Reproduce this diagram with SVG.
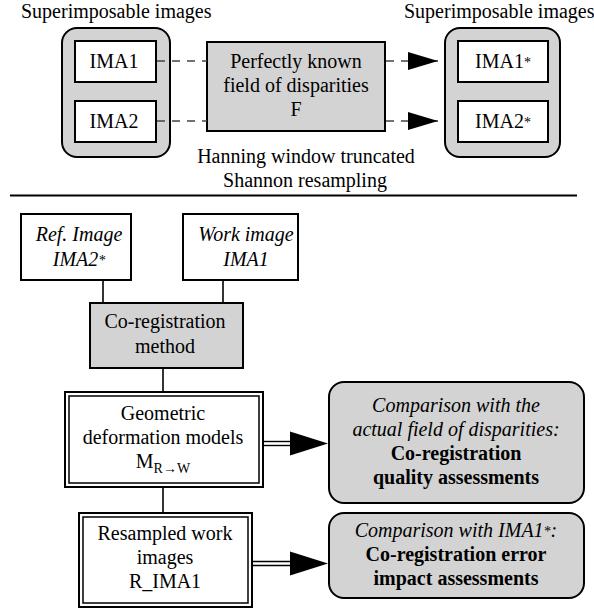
<svg xmlns="http://www.w3.org/2000/svg" width="594" height="609" viewBox="0 0 594 609">
<style>
text{font-family:"Liberation Serif","Times New Roman",serif;font-size:20px;fill:#000;text-anchor:middle}
.it{font-style:italic}
.b{font-weight:bold}
.st{text-anchor:start}
.ast{font-size:14px}
.box{fill:#fff;stroke:#000;stroke-width:2}
.gbox{fill:#d3d3d3;stroke:#000;stroke-width:2}
.inner{fill:none;stroke:#000;stroke-width:1.5}
.ln{stroke:#000;stroke-width:1.6;fill:none}
.dash{stroke:#444;stroke-width:1.4;stroke-dasharray:8 7;fill:none}
.dbl{stroke:#000;stroke-width:1.4;fill:none}
.head{fill:#000}
</style>
<defs>
<marker id="ah" markerWidth="30" markerHeight="18" refX="30" refY="9" orient="auto" markerUnits="userSpaceOnUse">
<path d="M0,0 L30,9 L0,18 Z" fill="#000"/>
</marker>
</defs>

<g id="label-left"><text class="st" x="21" y="18">Superimposable images</text></g>
<g id="label-right"><text class="st" x="404" y="18">Superimposable images</text></g>

<g id="group-left">
<rect class="gbox" x="62" y="28" width="108" height="129" rx="15"/>
</g>
<g id="ima1"><rect class="box" x="75" y="41" width="81" height="41"/><text x="114" y="68">IMA1</text></g>
<g id="ima2"><rect class="box" x="75" y="101" width="81" height="41"/><text x="114" y="128">IMA2</text></g>

<g id="field">
<rect class="gbox" x="207" y="42" width="178" height="89"/>
<text x="296" y="68">Perfectly known</text>
<text x="296" y="92">field of disparities</text>
<text x="296" y="116">F</text>
</g>

<g id="group-right">
<rect class="gbox" x="445" y="28" width="115" height="129" rx="15"/>
</g>
<g id="ima1s"><rect class="box" x="458" y="41" width="90" height="41"/><text x="503" y="68">IMA1<tspan class="ast" dy="-1">*</tspan></text></g>
<g id="ima2s"><rect class="box" x="458" y="101" width="90" height="41"/><text x="503" y="128">IMA2<tspan class="ast" dy="-1">*</tspan></text></g>

<g id="hanning">
<text x="306" y="163">Hanning window truncated</text>
<text x="305" y="187">Shannon resampling</text>
</g>

<g id="rule"><line x1="10" y1="195.5" x2="577" y2="195.5" stroke="#000" stroke-width="2"/></g>

<g id="ref"><rect class="box" x="21" y="214" width="110" height="66"/>
<text class="it" x="79" y="241">Ref. Image</text>
<text class="it" x="79" y="266">IMA2<tspan class="ast" dy="-1">*</tspan></text></g>
<g id="work"><rect class="box" x="183" y="214" width="115" height="66"/>
<text class="it" x="246" y="241">Work image</text>
<text class="it" x="246" y="266">IMA1</text></g>

<g id="coreg"><rect class="gbox" x="90" y="303" width="153" height="65"/>
<text x="165" y="328">Co-registration</text>
<text x="165" y="353">method</text></g>

<g id="geom">
<rect class="box" x="65" y="392" width="198" height="95"/>
<rect class="inner" x="69" y="396" width="190" height="87"/>
<text x="163" y="420">Geometric</text>
<text x="163" y="444">deformation models</text>
<text x="163" y="468">M<tspan font-size="14" dy="5">R→W</tspan></text>
</g>

<g id="resampled">
<rect class="box" x="79" y="513" width="173" height="94"/>
<rect class="inner" x="83" y="517" width="165" height="86"/>
<text x="165" y="540">Resampled work</text>
<text x="165" y="564">images</text>
<text x="165" y="588">R_IMA1</text>
</g>

<g id="quality">
<rect class="gbox" x="329" y="382" width="255" height="121" rx="15"/>
<text class="it" x="456" y="412">Comparison with the</text>
<text class="it" x="456" y="436">actual field of disparities:</text>
<text class="b" x="456" y="460">Co-registration</text>
<text class="b" x="456" y="484">quality assessments</text>
</g>

<g id="impact">
<rect class="gbox" x="329" y="513" width="255" height="85" rx="15"/>
<text class="it" x="456" y="537">Comparison with IMA1<tspan class="ast" dy="-1">*</tspan><tspan dy="1">:</tspan></text>
<text class="b" x="456" y="561">Co-registration error</text>
<text class="b" x="456" y="585">impact assessments</text>
</g>

<g id="connectors">
<line class="dash" x1="157" y1="61" x2="207" y2="61"/>
<line class="dash" x1="157" y1="121" x2="207" y2="121"/>
<line class="dash" x1="386" y1="61" x2="438" y2="61" marker-end="url(#ah)"/>
<line class="dash" x1="386" y1="121" x2="438" y2="121" marker-end="url(#ah)"/>
<line class="ln" x1="103" y1="280" x2="103" y2="303"/>
<line class="ln" x1="223" y1="280" x2="223" y2="303"/>
<line class="ln" x1="163" y1="368" x2="163" y2="392"/>
<line class="ln" x1="163" y1="487" x2="163" y2="513"/>
<line class="dbl" x1="263" y1="441.5" x2="292" y2="441.5"/>
<line class="dbl" x1="263" y1="445.5" x2="292" y2="445.5"/>
<path class="head" d="M290,431.5 L328,443.5 L290,455.5 Z"/>
<line class="dbl" x1="252" y1="561.5" x2="292" y2="561.5"/>
<line class="dbl" x1="252" y1="565.5" x2="292" y2="565.5"/>
<path class="head" d="M290,551.5 L328,563.5 L290,575.5 Z"/>
</g>
</svg>
